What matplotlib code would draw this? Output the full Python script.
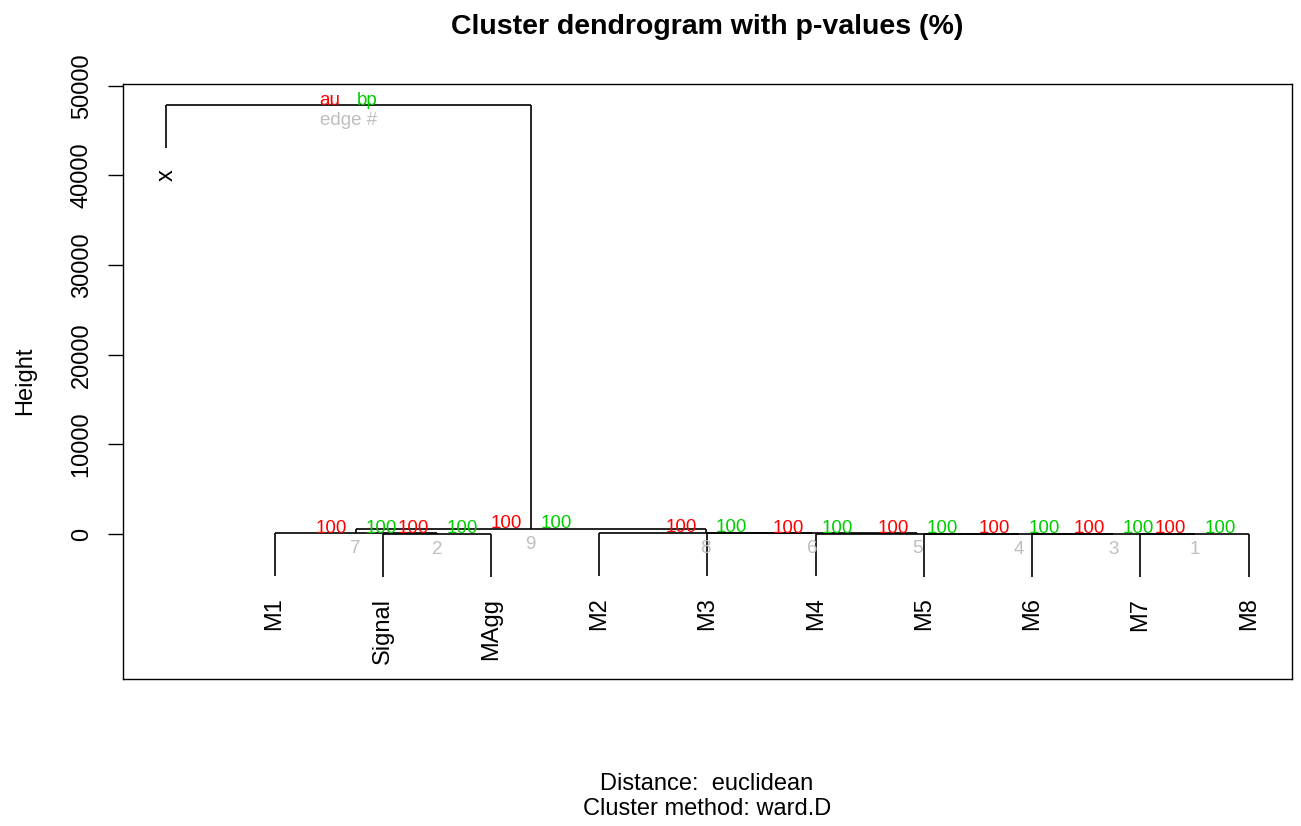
import matplotlib
matplotlib.use("Agg")
import matplotlib.pyplot as plt

plt.rcParams['font.family'] = ['Liberation Sans', 'DejaVu Sans']

# leaves in plotting order
leaf_order = ["x", "M1", "Signal", "MAgg", "M2", "M3", "M4", "M5", "M6", "M7", "M8"]

# merges (hclust style): a string is a leaf, an int is an earlier edge number
merge_a = ["M7", "Signal", "M6", "M5", "M4", "M3", "M1", "M2", 7, "x"]
merge_b = ["M8", "MAgg", 1, 3, 4, 5, 2, 6, 8, 9]
merge_height = [10, 20, 30, 40, 55, 70, 90, 110, 600, 47800]

# approximately unbiased / bootstrap probabilities (%) for edges 1..9
au_pct = [100, 100, 100, 100, 100, 100, 100, 100, 100]
bp_pct = [100, 100, 100, 100, 100, 100, 100, 100, 100]

col_au = "#FF0000"
col_bp = "#00CD00"
col_edge = "#BEBEBE"

fig = plt.figure(figsize=(13.01, 8.26), dpi=100)
ax = fig.add_axes([123 / 1301, 147 / 826, 1169 / 1301, 595 / 826])

leaf_x = {name: i + 1 for i, name in enumerate(leaf_order)}
hang = 0.1 * (max(merge_height) - min(merge_height))

node_x = {}
for k, (a, b, h) in enumerate(zip(merge_a, merge_b, merge_height), start=1):
    xs, ys = [], []
    for child in (a, b):
        if isinstance(child, str):
            cx, cy = leaf_x[child], h - hang
            ax.annotate(child, (cx, cy), xytext=(0, -15), textcoords="offset points",
                        rotation=90, ha="center", va="top", fontsize=17)
        else:
            cx, cy = node_x[child], merge_height[child - 1]
        xs.append(cx)
        ys.append(cy)
        ax.plot([cx, cx], [cy, h], color="black", lw=1.2, solid_capstyle="butt")
    ax.plot(xs, [h, h], color="black", lw=1.2, solid_capstyle="butt")
    node_x[k] = sum(xs) / 2

# p-values and edge numbers
for k in range(1, len(au_pct) + 1):
    x, h = node_x[k], merge_height[k - 1]
    ax.annotate(str(au_pct[k - 1]), (x, h), xytext=(-6, 0.5), textcoords="offset points",
                ha="right", va="baseline", color=col_au, fontsize=13.5)
    ax.annotate(str(bp_pct[k - 1]), (x, h), xytext=(7, 0.5), textcoords="offset points",
                ha="left", va="baseline", color=col_bp, fontsize=13.5)
    ax.annotate(str(k), (x, h), xytext=(0, -5), textcoords="offset points",
                ha="center", va="top", color=col_edge, fontsize=13.5)

# legend at the root
root = len(merge_height)
rx, rh = node_x[root], merge_height[root - 1]
ax.annotate("au", (rx, rh), xytext=(-6, 0.5), textcoords="offset points",
            ha="right", va="baseline", color=col_au, fontsize=13.5)
ax.annotate("bp", (rx, rh), xytext=(6, 0.5), textcoords="offset points",
            ha="left", va="baseline", color=col_bp, fontsize=13.5)
ax.annotate("edge #", (rx, rh), xytext=(0, -5), textcoords="offset points",
            ha="center", va="top", color=col_edge, fontsize=13.5)

ax.set_xlim(0.6, 11.4)
ax.set_ylim(-16170, 50190)
ax.set_xticks([])
ax.set_yticks([0, 10000, 20000, 30000, 40000, 50000])
ax.tick_params(axis="y", length=10.8, width=1, pad=11, labelsize=17)
plt.setp(ax.get_yticklabels(), rotation=90, va="center")
for s in ax.spines.values():
    s.set_linewidth(1)

fig.text(707 / 1301, 1 - 27 / 826, "Cluster dendrogram with p-values (%)",
         ha="center", va="center", fontsize=20.5, fontweight="bold")
fig.text(25 / 1301, 1 - 381 / 826, "Height", rotation=90, ha="center", va="center", fontsize=17)
fig.text(707 / 1301, 1 - 790 / 826, "Distance:  euclidean", ha="center", va="baseline", fontsize=17)
fig.text(707 / 1301, 1 - 815 / 826, "Cluster method: ward.D", ha="center", va="baseline", fontsize=17)

fig.savefig("out.png", dpi=100, facecolor="white")
